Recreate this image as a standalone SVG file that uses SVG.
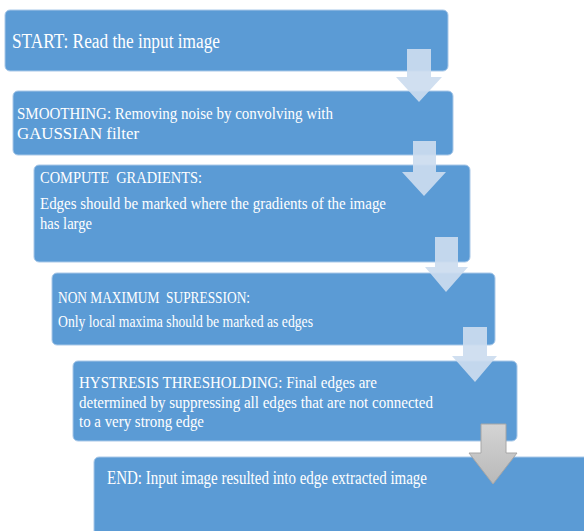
<svg xmlns="http://www.w3.org/2000/svg" width="584" height="531" viewBox="0 0 584 531">
<defs>
<style>
.box{fill:#5B9BD5;stroke:#A9C8E8;stroke-width:1}
.t{font-family:"Liberation Serif","Times New Roman",serif;fill:#ffffff;white-space:pre}
.arr{fill:#CCDCEF;fill-opacity:0.92}
</style>
<linearGradient id="gray" x1="0" y1="0" x2="0" y2="1">
<stop offset="0" stop-color="#D4D4D4"/>
<stop offset="1" stop-color="#B9B9B9"/>
</linearGradient>
</defs>
<rect width="584" height="531" fill="#ffffff"/>
<g id="n1"><rect class="box" x="5" y="10" width="443" height="61" rx="5"/>
<text class="t" x="12" y="48" font-size="20" textLength="208" lengthAdjust="spacingAndGlyphs">START: Read the input image</text></g>
<g id="n2"><rect class="box" x="13" y="91" width="440" height="64" rx="5"/>
<text class="t" x="17" y="118.5" font-size="17" textLength="316" lengthAdjust="spacingAndGlyphs">SMOOTHING: Removing noise by convolving with</text>
<text class="t" x="17" y="138.5" font-size="17" textLength="122" lengthAdjust="spacingAndGlyphs">GAUSSIAN filter</text></g>
<g id="n3"><rect class="box" x="34" y="165" width="436" height="97" rx="5"/>
<text class="t" x="40" y="183" font-size="17" textLength="162" lengthAdjust="spacingAndGlyphs">COMPUTE  GRADIENTS:</text>
<text class="t" x="40" y="209" font-size="17" textLength="346" lengthAdjust="spacingAndGlyphs">Edges should be marked where the gradients of the image</text>
<text class="t" x="40" y="228.5" font-size="17" textLength="52" lengthAdjust="spacingAndGlyphs">has large</text></g>
<g id="n4"><rect class="box" x="52" y="273" width="443" height="72" rx="5"/>
<text class="t" x="58" y="302.5" font-size="16.5" textLength="192" lengthAdjust="spacingAndGlyphs">NON MAXIMUM  SUPRESSION:</text>
<text class="t" x="58" y="326.5" font-size="16.5" textLength="255" lengthAdjust="spacingAndGlyphs">Only local maxima should be marked as edges</text></g>
<g id="n5"><rect class="box" x="73" y="361" width="444" height="80" rx="5"/>
<text class="t" x="79" y="388" font-size="17" textLength="298" lengthAdjust="spacingAndGlyphs">HYSTRESIS THRESHOLDING: Final edges are</text>
<text class="t" x="79" y="407.5" font-size="17" textLength="354" lengthAdjust="spacingAndGlyphs">determined by suppressing all edges that are not connected</text>
<text class="t" x="79" y="427" font-size="17" textLength="125" lengthAdjust="spacingAndGlyphs">to a very strong edge</text></g>
<g id="n6"><rect class="box" x="94" y="457" width="500" height="84" rx="5"/>
<text class="t" x="107" y="484" font-size="18" textLength="320" lengthAdjust="spacingAndGlyphs">END: Input image resulted into edge extracted image</text></g>
<g id="connectors">
<polygon class="arr" points="407,49 431,49 431,77 442,77 419,102 396,77 407,77"/>
<polygon class="arr" points="413,141 436,141 436,172 446,172 424,196 402,172 413,172"/>
<polygon class="arr" points="435,237 458,237 458,267 468,267 446,292 425,267 435,267"/>
<polygon class="arr" points="463,327 487,327 487,356 497,356 475,382 452,356 463,356"/>
<polygon points="481,424 506,424 506,453 517,453 493,484 469,453 481,453" fill="url(#gray)" stroke="#A6A6A6" stroke-width="1"/>
</g>
</svg>
